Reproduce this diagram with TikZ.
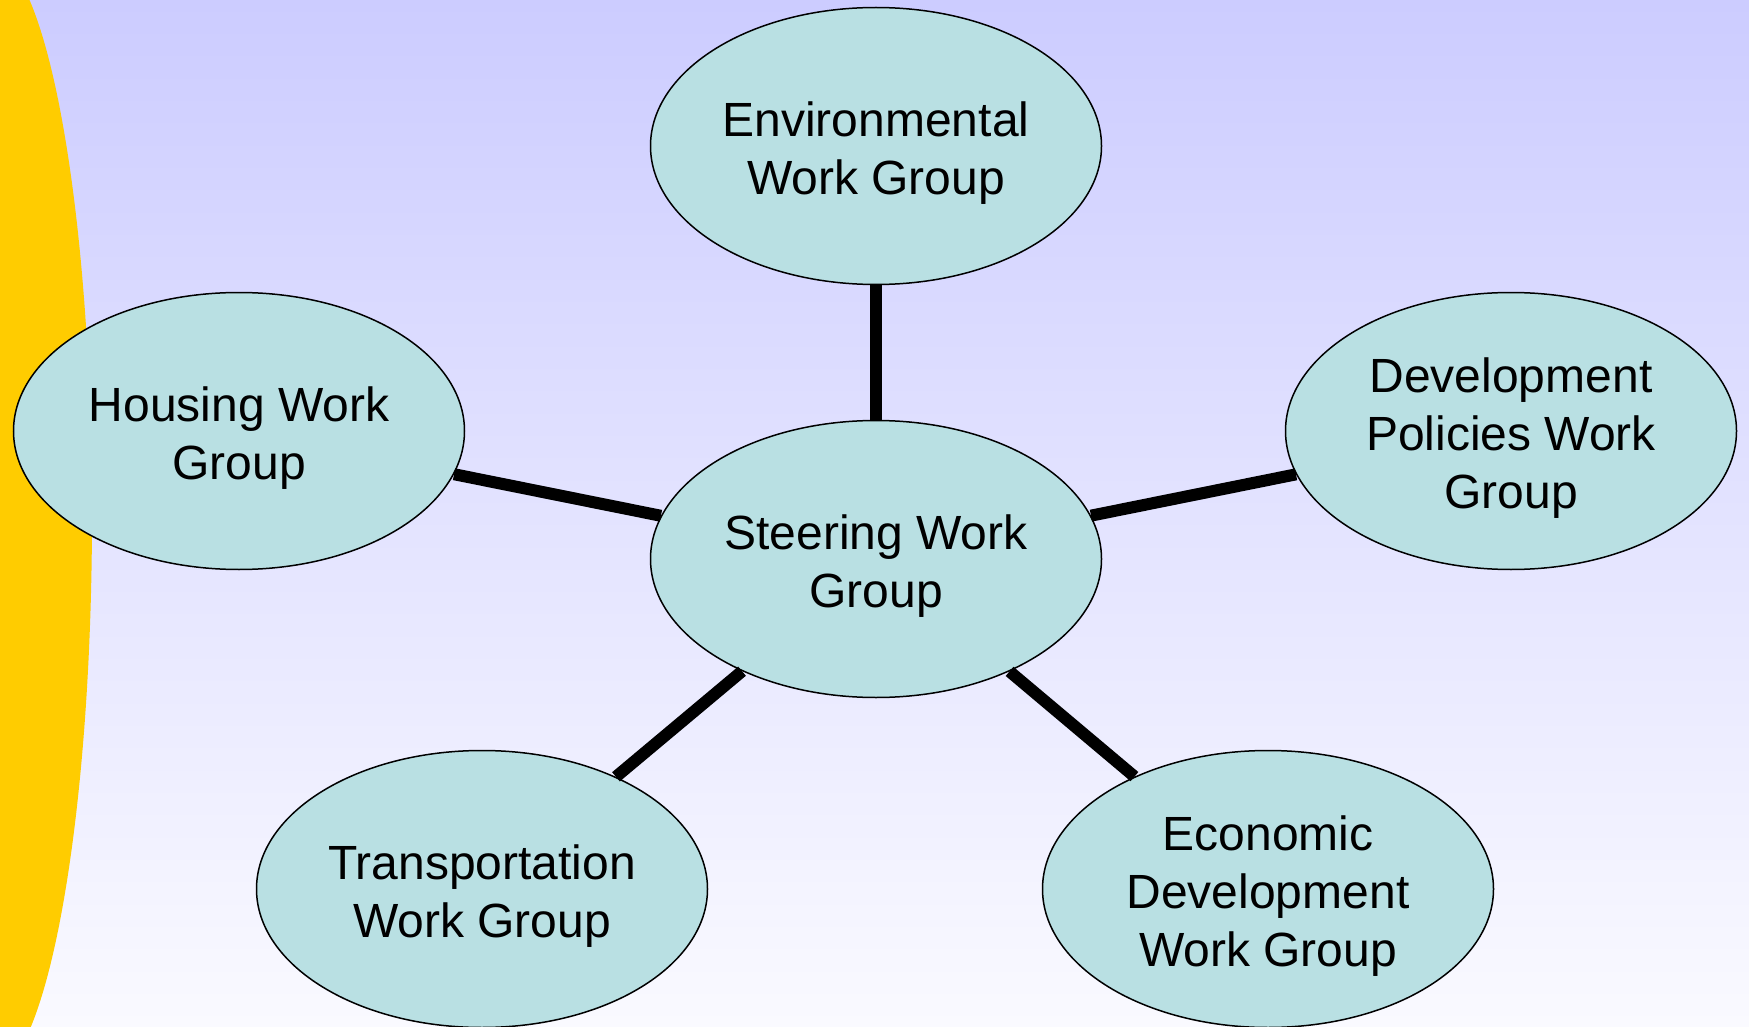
\documentclass[tikz,border=0pt]{standalone}
\usepackage{fontspec}
\setmainfont{Liberation Sans}
\usetikzlibrary{shapes.geometric}
\definecolor{bgtop}{RGB}{204,204,255}
\definecolor{bgbot}{RGB}{250,250,255}
\definecolor{sun}{RGB}{255,204,0}
\definecolor{egg}{RGB}{185,224,227}
\begin{document}
\begin{tikzpicture}[x=1pt,y=-1pt,
  wg/.style={ellipse, draw=black, line width=1.5pt, fill=egg, minimum width=451pt, minimum height=277pt, inner sep=0pt},
  wgtext/.style={align=center, font=\fontsize{48}{58}\selectfont, inner sep=0pt, yshift=-7pt},
  link/.style={line width=12pt}]
\useasboundingbox (0,0) rectangle (1749,1027);
\begin{scope}
\clip (0,0) rectangle (1749,1027);
\shade[top color=bgtop, bottom color=bgbot] (0,0) rectangle (1749,1027);
\fill[sun] (-11,515) ellipse [x radius=103, y radius=560];
\end{scope}
\node[wg, label={[wgtext]center:Steering Work\\Group}] (steer) at (876,559) {};
\node[wg, label={[wgtext]center:Environmental\\Work Group}] (env) at (876,146) {};
\node[wg, label={[wgtext]center:Housing Work\\Group}] (house) at (239,431) {};
\node[wg, label={[wgtext]center:Development\\Policies Work\\Group}] (dev) at (1511,431) {};
\node[wg, label={[wgtext]center:Transportation\\Work Group}] (trans) at (482,889) {};
\node[wg, label={[wgtext]center:Economic\\Development\\Work Group}] (econ) at (1268,889) {};
\draw[link] (steer) -- (env);
\draw[link] (steer) -- (house);
\draw[link] (steer) -- (dev);
\draw[link] (steer) -- (trans);
\draw[link] (steer) -- (econ);
\end{tikzpicture}
\end{document}
